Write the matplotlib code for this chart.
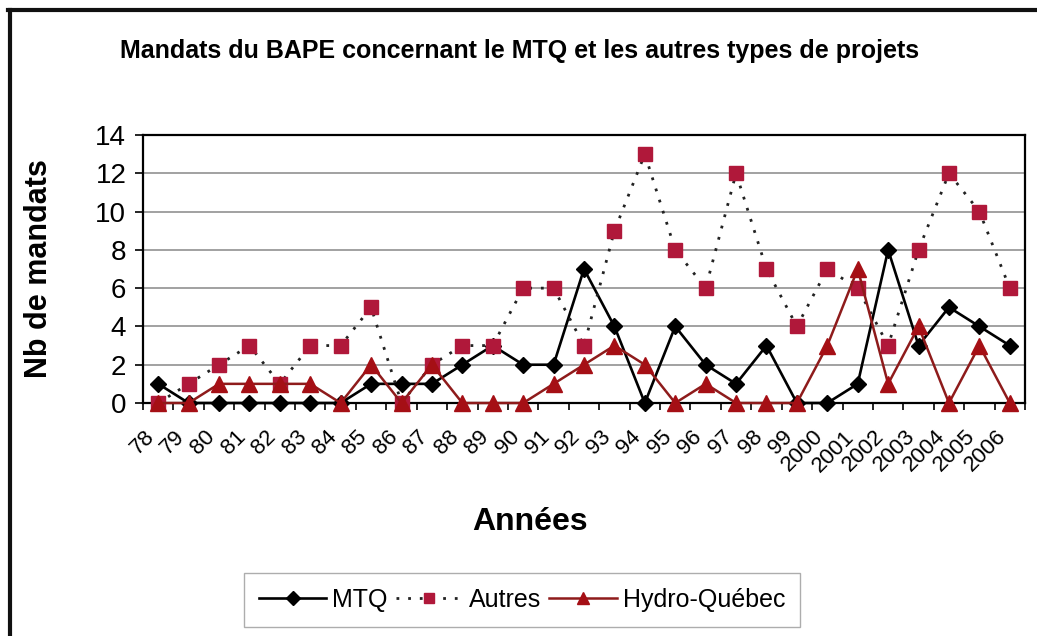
import matplotlib
matplotlib.use('Agg')
import matplotlib.pyplot as plt
from matplotlib.lines import Line2D
from matplotlib.transforms import ScaledTranslation
import numpy as np

years = ['78', '79', '80', '81', '82', '83', '84', '85', '86', '87', '88', '89',
         '90', '91', '92', '93', '94', '95', '96', '97', '98', '99', '2000',
         '2001', '2002', '2003', '2004', '2005', '2006']
mtq = [1, 0, 0, 0, 0, 0, 0, 1, 1, 1, 2, 3, 2, 2, 7, 4, 0, 4, 2, 1, 3, 0, 0,
       1, 8, 3, 5, 4, 3]
autres = [0, 1, 2, 3, 1, 3, 3, 5, 0, 2, 3, 3, 6, 6, 3, 9, 13, 8, 6, 12, 7, 4,
          7, 6, 3, 8, 12, 10, 6]
hydro = [0, 0, 1, 1, 1, 1, 0, 2, 0, 2, 0, 0, 0, 1, 2, 3, 2, 0, 1, 0, 0, 0, 3,
         7, 1, 4, 0, 3, 0]
yticks = [0, 2, 4, 6, 8, 10, 12, 14]

plt.rcParams['font.family'] = ['Liberation Sans', 'DejaVu Sans']

W, H = 1037, 636
fig = plt.figure(figsize=(W / 100, H / 100), dpi=100)
ax = fig.add_axes([143 / W, 1 - 403 / H, (1025 - 143) / W, (403 - 135) / H])

x = np.arange(len(years))
ax.plot(x, mtq, color='black', lw=1.9, marker='D', ms=8.5, mfc='black',
        mec='black', label='MTQ', clip_on=False, zorder=3)
ax.plot(x, autres, color='#222222', lw=2.0, ls=(0, (1.0, 3.2)), marker='s',
        ms=9.5, mfc='#B0183A', mec='#B0183A', label='Autres', clip_on=False,
        zorder=4)
ax.plot(x, hydro, color='#8E1B1B', lw=1.8, marker='^', ms=11, mfc='#A50F15',
        mec='#A50F15', label='Hydro-Québec', clip_on=False, zorder=5)

ax.set_xlim(-0.5, len(years) - 0.5)
ax.set_ylim(0, 14)
ax.set_yticks(yticks)
ax.set_yticklabels([str(v) for v in yticks], fontsize=20)
ax.yaxis.grid(True, color='#9a9a9a', lw=1.3)
ax.set_axisbelow(True)

ax.set_xticks(x)
ax.set_xticklabels(years, rotation=45, ha='right', va='center',
                   rotation_mode='anchor', fontsize=16)
ax.tick_params(axis='x', which='major', length=0, pad=22)
shift = ScaledTranslation(-7 / 100, 0, fig.dpi_scale_trans)
for lab in ax.get_xticklabels():
    lab.set_transform(lab.get_transform() + shift)
ax.set_xticks(np.arange(len(years) + 1) - 0.5, minor=True)
ax.tick_params(axis='x', which='minor', length=5, width=1.2, direction='out')
ax.tick_params(axis='y', length=6, width=1.2, direction='out', pad=6)

for s in ax.spines.values():
    s.set_color('black')
    s.set_linewidth(1.6)

ax.set_ylabel('Nb de mandats', fontsize=22, fontweight='bold', labelpad=30)
fig.text(530 / W, 1 - 522 / H, 'Années', ha='center', va='center',
         fontsize=23, fontweight='bold')

fig.text(520 / W, 1 - 51 / H,
         'Mandats du BAPE concernant le MTQ et les autres types de projets',
         ha='center', va='center', fontsize=18, fontweight='bold')

leg = fig.legend(loc='center', bbox_to_anchor=(522 / W, 1 - 600 / H), ncol=3,
                 fontsize=18, frameon=True, fancybox=False, edgecolor='#999999',
                 handlelength=2.7, handletextpad=0.25, columnspacing=0.3,
                 borderpad=0.6, markerscale=0.8)
leg.get_frame().set_linewidth(1.0)

# outer chart frame
fig.add_artist(Line2D([10 / W, 10 / W], [0, 1 - 10 / H], color='#111111',
                      lw=3, transform=fig.transFigure))
fig.add_artist(Line2D([8 / W, 1], [1 - 10 / H, 1 - 10 / H], color='#111111',
                      lw=3, transform=fig.transFigure))

fig.savefig('out.png', dpi=100)
